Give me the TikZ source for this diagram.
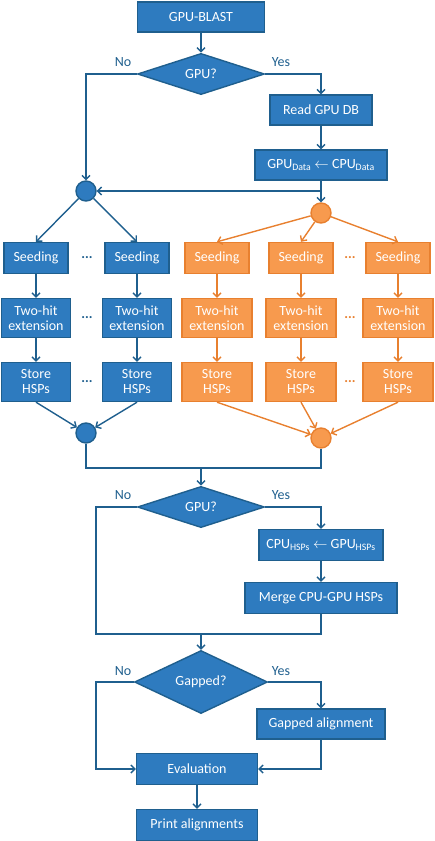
\documentclass[tikz,border=0pt]{standalone}
\usepackage{fontspec}
\setmainfont{Carlito}
\usetikzlibrary{shapes.geometric,arrows.meta}
\definecolor{bfill}{HTML}{2E7BBF}
\definecolor{bline}{HTML}{1F5F8E}
\definecolor{ofill}{HTML}{F79A4E}
\definecolor{oline}{HTML}{E8802F}
\tikzset{
  >={Straight Barb[length=4pt,width=8pt]},
}
\tikzstyle{every node}=[font=\fontsize{14}{15}\selectfont]
\tikzstyle{box}=[draw=bline,fill=bfill,line width=1.4pt,text=white,inner sep=0pt,align=center]
\tikzstyle{obox}=[box,draw=oline,fill=ofill]
\tikzstyle{decision}=[box,diamond]
\tikzstyle{merger}=[circle,draw=bline,fill=bfill,line width=1.4pt,minimum size=20pt,inner sep=0pt]
\tikzstyle{omerger}=[merger,draw=oline,fill=ofill]
\tikzstyle{flow}=[line width=1.4pt,bline,->]
\tikzstyle{oflow}=[flow,oline]
\tikzstyle{plain}=[line width=1.4pt,bline]
\tikzstyle{answer}=[text=bline]

\begin{document}
\begin{tikzpicture}[x=1pt,y=-1pt]
    \useasboundingbox (0,0) rectangle (435,841);
    % top part
    \node[box,minimum width=127pt,minimum height=30pt] (blast) at (201,17) {GPU-BLAST};
    \node[decision,minimum width=127pt,minimum height=38pt] (gpu1) at (201,74) {GPU?};
    \node[answer] (no1) at (123,62) {No};
    \node[answer] (yes1) at (281,62) {Yes};
    \node[box,minimum width=102pt,minimum height=30pt] (readdb) at (321,110) {Read GPU DB};
    \node[box,minimum width=132pt,minimum height=30pt] (copyin) at (321,165)
      {GPU\textsubscript{Data} $\leftarrow$ CPU\textsubscript{Data}};
    \node[merger] (bsplit) at (86,191) {};
    \node[omerger] (osplit) at (321,213) {};
    \coordinate (fork) at (321,191);

    \draw[flow] (blast) -- (gpu1);
    \draw[flow] (gpu1.west) -| (bsplit.north);
    \draw[flow] (gpu1.east) -| (readdb.north);
    \draw[flow] (readdb) -- (copyin);
    \draw[flow] (copyin.south) -- (osplit.north);
    \draw[flow] (fork) -- (bsplit.east);

    % CPU threads
    \foreach \x/\n in {36/1,137/2}{
      \node[box,minimum width=64pt,minimum height=31pt] (bseed\n) at (\x,258) {Seeding};
      \node[box,minimum width=69pt,minimum height=39pt] (btwo\n) at (\x,318) {Two-hit\\extension};
      \node[box,minimum width=69pt,minimum height=39pt] (bstore\n) at (\x,382) {Store\\HSPs};
    }
    \node[merger] (bjoin) at (86,433) {};
    \foreach \y/\n in {258/1,318/2,382/3}
      \node[answer] (bdots\n) at (87,\y) {\textbf{...}};
    \foreach \n in {1,2}{
      \draw[flow] (bsplit) -- (bseed\n.north);
      \draw[flow] (bseed\n) -- (btwo\n);
      \draw[flow] (btwo\n) -- (bstore\n);
      \draw[flow] (bstore\n.south) -- (bjoin);
    }

    % GPU threads
    \foreach \x/\n in {217/1,301/2,398/3}{
      \node[obox,minimum width=64pt,minimum height=31pt] (oseed\n) at (\x,258) {Seeding};
      \node[obox,minimum width=70pt,minimum height=39pt] (otwo\n) at (\x,318) {Two-hit\\extension};
      \node[obox,minimum width=70pt,minimum height=39pt] (ostore\n) at (\x,382) {Store\\HSPs};
    }
    \node[omerger] (ojoin) at (321,438) {};
    \foreach \y/\n in {258/1,318/2,382/3}
      \node[text=oline] (odots\n) at (350,\y) {\textbf{...}};
    \foreach \n in {1,2,3}{
      \draw[oflow] (osplit) -- (oseed\n.north);
      \draw[oflow] (oseed\n) -- (otwo\n);
      \draw[oflow] (otwo\n) -- (ostore\n);
      \draw[oflow] (ostore\n.south) -- (ojoin);
    }

    % merge results
    \coordinate (mid1) at (201,468);
    \node[decision,minimum width=127pt,minimum height=39pt] (gpu2) at (201,507) {GPU?};
    \node[answer] (no2) at (123,495) {No};
    \node[answer] (yes2) at (281,495) {Yes};
    \node[box,minimum width=124pt,minimum height=31pt] (copyout) at (321,545)
      {CPU\textsubscript{HSPs} $\leftarrow$ GPU\textsubscript{HSPs}};
    \node[box,minimum width=152pt,minimum height=31pt] (mergehsp) at (321,598) {Merge CPU-GPU HSPs};
    \coordinate (left2) at (96,634);
    \coordinate (mid2) at (201,634);

    \draw[plain] (bjoin.south) |- (mid1) -| (ojoin.south);
    \draw[flow] (mid1) -- (gpu2.north);
    \draw[plain] (gpu2.west) -| (left2) -- (mid2);
    \draw[flow] (gpu2.east) -| (copyout.north);
    \draw[flow] (copyout) -- (mergehsp);
    \draw[plain] (mergehsp.south) |- (mid2);

    % gapped alignment
    \node[decision,minimum width=133pt,minimum height=38pt] (gapped) at (201,682) {Gapped?};
    \node[answer] (no3) at (123,671) {No};
    \node[answer] (yes3) at (281,671) {Yes};
    \node[box,minimum width=128pt,minimum height=30pt] (galign) at (321,724) {Gapped alignment};
    \node[box,minimum width=121pt,minimum height=31pt] (eval) at (197,769) {Evaluation};
    \node[box,minimum width=121pt,minimum height=31pt] (print) at (197,825) {Print alignments};
    \coordinate (left3) at (96,769);

    \draw[flow] (mid2) -- (gapped.north);
    \draw[flow] (gapped.west) -| (left3) -- (eval.west);
    \draw[flow] (gapped.east) -| (galign.north);
    \draw[flow] (galign.south) |- (eval.east);
    \draw[flow] (eval) -- (print);
\end{tikzpicture}
\end{document}
